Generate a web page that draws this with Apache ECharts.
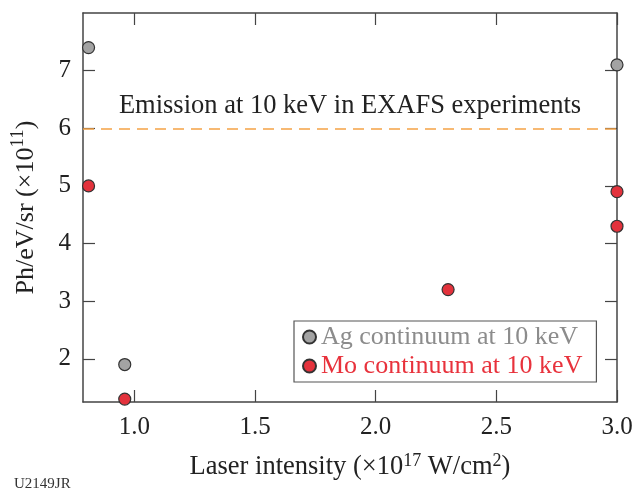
<!DOCTYPE html>
<html>
<head>
<meta charset="utf-8">
<script src="https://cdn.jsdelivr.net/npm/echarts@6/dist/echarts.min.js"></script>
<style>
  html, body { margin: 0; padding: 0; background: #fff; }
  #chart { width: 635px; height: 493px; }
</style>
</head>
<body>
<div id="chart"></div>
<script>
// Données
const agPoints = [[0.81, 7.4], [0.96, 1.9], [3.0, 7.1]];
const moPoints = [[0.81, 5.0], [0.96, 1.3], [2.3, 3.2], [3.0, 4.9], [3.0, 4.3]];
const xTicks = [1.0, 1.5, 2.0, 2.5, 3.0];
const yTicks = [2, 3, 4, 5, 6, 7];
const emissionLevel = 6;
const seriesNames = ["Ag continuum at 10 keV", "Mo continuum at 10 keV"];

const serif = "Liberation Serif";
const axisColor = "#444";

// Axe "miroir" (haut / droite) : seulement les graduations
function mirrorAxis(extra, ticks) {
  return Object.assign({
    axisLine: { show: true, lineStyle: { color: axisColor, width: 1.5 } },
    axisTick: { show: true, inside: true, length: 12, customValues: ticks, lineStyle: { color: axisColor, width: 1.2 } },
    axisLabel: { show: false },
    splitLine: { show: false },
  }, extra);
}

const chart = echarts.init(document.getElementById("chart"));

chart.setOption({
  animation: false,
  textStyle: { fontFamily: serif },
  grid: { left: 83, right: 18, top: 13, bottom: 91, outerBoundsMode: "none" },
  legend: {
    orient: "vertical",
    left: 294,
    top: 321,
    padding: [3, 14, 3, 8],
    itemGap: 3,
    itemWidth: 13,
    itemHeight: 13,
    icon: "circle",
    borderColor: "#555",
    borderWidth: 1.2,
    backgroundColor: "#fff",
    textStyle: { fontFamily: serif, fontSize: 26, padding: [0, 0, 0, 0] },
    data: [
      { name: seriesNames[0], textStyle: { color: "#8c8c8c" } },
      { name: seriesNames[1], textStyle: { color: "#e8323c" } },
    ],
  },
  xAxis: [
    {
      type: "value",
      min: 0.787,
      max: 3.0,
      name: "{n|Laser intensity (×10}{s|17}{n| W/cm}{s|2}{n|)}",
      nameLocation: "middle",
      nameGap: 50,
      nameTextStyle: {
        rich: {
          n: { fontFamily: serif, fontSize: 26.5, color: "#222", lineHeight: 29, verticalAlign: "bottom" },
          s: { fontFamily: serif, fontSize: 18, color: "#222", lineHeight: 29, verticalAlign: "top" },
        },
      },
      axisLine: { show: true, lineStyle: { color: axisColor, width: 1.5 } },
      axisTick: { show: true, inside: true, length: 12, customValues: xTicks, lineStyle: { color: axisColor, width: 1.2 } },
      axisLabel: {
        customValues: xTicks,
        formatter: (v) => v.toFixed(1),
        fontFamily: serif,
        fontSize: 25,
        color: "#222",
        margin: 13,
      },
      splitLine: { show: false },
    },
    mirrorAxis({ type: "value", position: "top", min: 0.787, max: 3.0 }, xTicks),
  ],
  yAxis: [
    {
      type: "value",
      min: 1.25,
      max: 8,
      name: "{n|Ph/eV/sr (×10}{s|11}{n|)}",
      nameLocation: "middle",
      nameGap: 44,
      nameTextStyle: {
        rich: {
          n: { fontFamily: serif, fontSize: 26, color: "#222", lineHeight: 30, verticalAlign: "bottom" },
          s: { fontFamily: serif, fontSize: 19, color: "#222", lineHeight: 30, verticalAlign: "top" },
        },
      },
      axisLine: { show: true, lineStyle: { color: axisColor, width: 1.5 } },
      axisTick: { show: true, inside: true, length: 12, customValues: yTicks, lineStyle: { color: axisColor, width: 1.2 } },
      axisLabel: {
        customValues: yTicks,
        fontFamily: serif,
        fontSize: 25,
        color: "#222",
        margin: 12,
      },
      splitLine: { show: false },
    },
    mirrorAxis({ type: "value", position: "right", min: 1.25, max: 8 }, yTicks),
  ],
  series: [
    {
      name: seriesNames[0],
      type: "scatter",
      data: agPoints,
      symbolSize: 12,
      itemStyle: { color: "#a3a3a3", borderColor: "#333", borderWidth: 1.2, opacity: 1 },
      markLine: {
        silent: true,
        symbol: ["none", "none"],
        lineStyle: { color: "#f5a345", type: [11, 7], width: 1.6 },
        label: {
          show: true,
          position: "insideMiddleTop",
          distance: 9,
          formatter: "Emission at 10 keV in EXAFS experiments",
          fontFamily: serif,
          fontSize: 26.5,
          color: "#222",
        },
        data: [{ yAxis: emissionLevel }],
      },
      z: 3,
    },
    {
      name: seriesNames[1],
      type: "scatter",
      data: moPoints,
      symbolSize: 12,
      itemStyle: { color: "#e3323c", borderColor: "#333", borderWidth: 1.2, opacity: 1 },
      z: 3,
    },
  ],
  graphic: [
    {
      type: "text",
      left: 14,
      top: 477,
      style: { text: "U2149JR", fontFamily: serif, fontSize: 15, fill: "#333" },
    },
  ],
});
</script>
</body>
</html>
